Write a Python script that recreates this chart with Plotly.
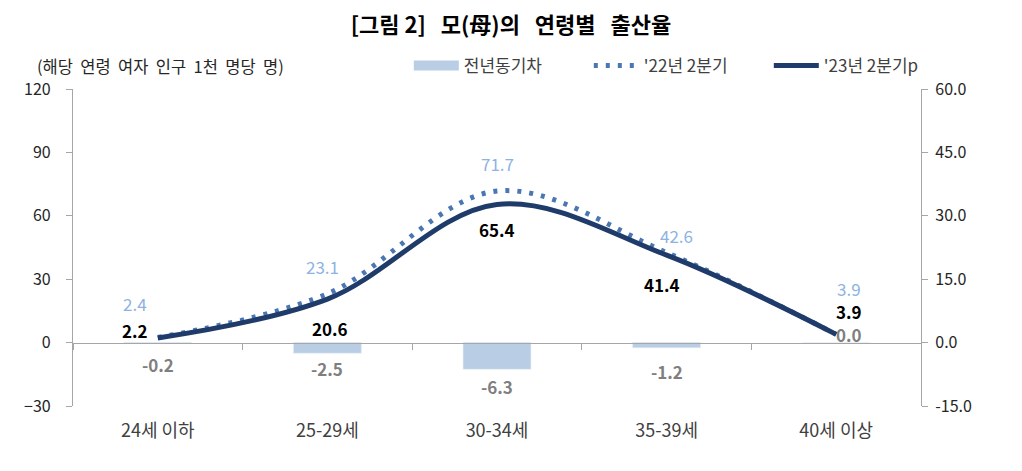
import plotly.graph_objects as go

# data
age_groups = ["24세 이하", "25-29세", "30-34세", "35-39세", "40세 이상"]
rate_22q2 = [2.4, 23.1, 71.7, 42.6, 3.9]
rate_23q2 = [2.2, 20.6, 65.4, 41.4, 3.9]
yoy_diff = [-0.2, -2.5, -6.3, -1.2, 0.0]

left_ticks = [-30, 0, 30, 60, 90, 120]
right_ticks = [-15.0, 0.0, 15.0, 30.0, 45.0, 60.0]

FONT = "Noto Sans CJK KR"
BAR_C = "#b9cde5"
DOT_C = "#4a76b3"
LINE_C = "#1f3b6a"

# label offsets in px (x, y) per category
off_22 = [(-23, 34), (-5, 27), (0, 28), (10, 17), (13, 46)]
off_23 = [(-23, 7), (3, -29), (0, -25), (-5, -29), (13, 23)]
off_bar = [(0, -21), (0, -15), (0, -17), (0, -24), (13, 8)]

fig = go.Figure()

fig.add_trace(go.Bar(
    x=age_groups, y=yoy_diff, name="전년동기차", showlegend=False,
    marker_color=BAR_C, width=0.4,
    xaxis="x2", yaxis="y2", hoverinfo="skip",
))
fig.add_trace(go.Scatter(
    x=age_groups, y=rate_22q2, name="'22년 2분기",
    mode="lines", line=dict(color=DOT_C, width=5, dash="4px,8px", shape="spline"),
))
fig.add_trace(go.Scatter(
    x=age_groups, y=rate_23q2, name="'23년 2분기p",
    mode="lines", line=dict(color=LINE_C, width=5, shape="spline"),
))
# legend swatch for the bars (wide rectangle like the original)
fig.add_trace(go.Scatter(
    x=[None], y=[None], name="전년동기차", mode="lines",
    line=dict(color=BAR_C, width=10), legendrank=1,
))

ann = []
for i, cat in enumerate(age_groups):
    ann.append(dict(x=cat, y=rate_22q2[i], xref="x", yref="y", text=f"{rate_22q2[i]:.1f}",
                    showarrow=False, xshift=off_22[i][0], yshift=off_22[i][1], yanchor="middle",
                    font=dict(family=FONT, size=17, color="#8db3e2")))
    ann.append(dict(x=cat, y=rate_23q2[i], xref="x", yref="y", text=f"<b>{rate_23q2[i]:.1f}</b>",
                    showarrow=False, xshift=off_23[i][0], yshift=off_23[i][1], yanchor="middle",
                    font=dict(family=FONT, size=17, color="#000000")))
    ann.append(dict(x=cat, y=yoy_diff[i], xref="x2", yref="y2", text=f"<b>{yoy_diff[i]:.1f}</b>",
                    showarrow=False, xshift=off_bar[i][0], yshift=off_bar[i][1], yanchor="middle",
                    font=dict(family=FONT, size=17, color="#7f7f7f")))

ann.append(dict(x=-0.045, y=1.0726, xref="paper", yref="paper", xanchor="left", yanchor="middle",
                text="(해당&nbsp;&nbsp;연령&nbsp;&nbsp;여자&nbsp;&nbsp;인구&nbsp;&nbsp;1천&nbsp;&nbsp;명당&nbsp;&nbsp;명)",
                showarrow=False, font=dict(family=FONT, size=16.5, color="#262626")))

fig.update_layout(
    width=1006, height=455,
    margin=dict(l=65, r=93, t=81, b=57),
    paper_bgcolor="white", plot_bgcolor="white",
    title=dict(text="<b>[그림 2]&nbsp;&nbsp;&nbsp;모(母)의&nbsp;&nbsp;&nbsp;연령별&nbsp;&nbsp;&nbsp;출산율</b>",
               x=0.5, xanchor="center", y=0.963, yanchor="middle",
               font=dict(family=FONT, size=22, color="#000000")),
    font=dict(family=FONT, size=16, color="#404040"),
    showlegend=True,
    legend=dict(orientation="h", x=0.396, xanchor="left", y=1.0726, yanchor="middle",
                font=dict(family=FONT, size=17, color="#404040"), itemwidth=45,
                entrywidth=120, entrywidthmode="pixels",
                bgcolor="rgba(0,0,0,0)", traceorder="normal"),
    annotations=ann,
    xaxis=dict(type="category", showline=False, ticks="", showgrid=False,
               ticklabelstandoff=12,
               tickfont=dict(family=FONT, size=18, color="#404040")),
    xaxis2=dict(type="category", overlaying="x", anchor="free", position=0.2,
                showline=True, linecolor="#a6a6a6", linewidth=1.2,
                ticks="outside", tickson="boundaries", ticklen=6, tickcolor="#a6a6a6",
                showticklabels=False, showgrid=False, matches="x"),
    yaxis=dict(range=[-30, 120], tickvals=left_ticks, showgrid=False, zeroline=False,
               showline=True, linecolor="#a6a6a6", linewidth=1.2,
               ticks="outside", ticklen=6, tickcolor="#a6a6a6", ticklabelstandoff=12,
               tickfont=dict(family=FONT, size=16, color="#262626")),
    yaxis2=dict(range=[-15, 60], tickvals=right_ticks, ticktext=[f"{v:.1f}" for v in right_ticks],
                overlaying="y", side="right", anchor="x", showgrid=False, zeroline=False,
                showline=True, linecolor="#a6a6a6", linewidth=1.2,
                ticks="outside", ticklen=6, tickcolor="#a6a6a6", ticklabelstandoff=4,
                tickfont=dict(family=FONT, size=16, color="#262626")),
)

fig.write_html("out.html")
